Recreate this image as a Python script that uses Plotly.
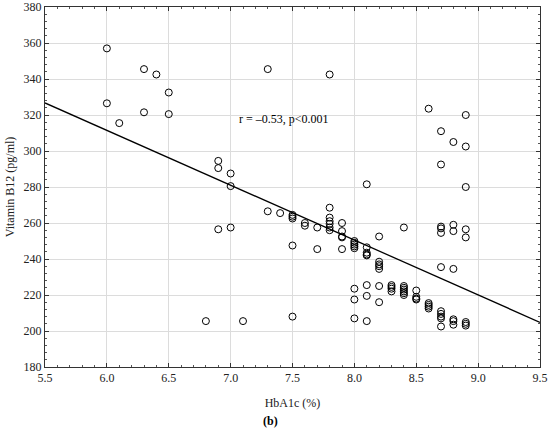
import plotly.graph_objects as go

# HbA1c (%) and vitamin B12 (pg/ml), column by column
hba1c = [
    6.0, 6.0,
    6.1,
    6.3, 6.3,
    6.4,
    6.5, 6.5,
    6.8,
    6.9, 6.9, 6.9,
    7.0, 7.0, 7.0,
    7.1,
    7.3, 7.3,
    7.4,
    7.5, 7.5, 7.5, 7.5, 7.5,
    7.6, 7.6,
    7.7, 7.7,
    7.8, 7.8, 7.8, 7.8, 7.8, 7.8, 7.8,
    7.9, 7.9, 7.9, 7.9, 7.9,
    8.0, 8.0, 8.0, 8.0, 8.0, 8.0, 8.0, 8.0,
    8.1, 8.1, 8.1, 8.1, 8.1, 8.1, 8.1, 8.1,
    8.2, 8.2, 8.2, 8.2, 8.2, 8.2, 8.2,
    8.3, 8.3, 8.3, 8.3,
    8.4, 8.4, 8.4, 8.4, 8.4, 8.4, 8.4,
    8.5, 8.5, 8.5, 8.5,
    8.6, 8.6, 8.6, 8.6, 8.6,
    8.7, 8.7, 8.7, 8.7, 8.7, 8.7, 8.7, 8.7, 8.7, 8.7, 8.7,
    8.8, 8.8, 8.8, 8.8, 8.8, 8.8, 8.8,
    8.9, 8.9, 8.9, 8.9, 8.9, 8.9, 8.9, 8.9,
]
b12 = [
    357, 326.5,
    315.5,
    345.5, 321.5,
    342.5,
    332.5, 320.5,
    205.5,
    294.5, 290.5, 256.5,
    287.5, 280.5, 257.5,
    205.5,
    345.5, 266.5,
    265.5,
    264.5, 263.5, 262.5, 247.5, 208,
    260, 258.5,
    257.5, 245.5,
    342.5, 268.5, 263, 261, 259.5, 257.5, 256,
    260, 255.5, 252.5, 252, 245.5,
    250, 249, 248, 247, 246, 223.5, 217.5, 207,
    281.5, 246.5, 243.5, 242.5, 242, 225.5, 219.5, 205.5,
    252.5, 238.5, 237, 236, 234.5, 225, 216,
    225.5, 224.5, 223.5, 222,
    257.5, 225, 224, 223, 222, 221, 220,
    222.5, 219, 218, 217.5,
    323.5, 215.5, 214.5, 213.5, 212.5,
    311, 292.5, 258, 257, 254.5, 235.5, 211, 209.5, 208, 207, 202.5,
    305, 259, 255.5, 234.5, 206.5, 205.5, 203.5,
    320, 302.5, 280, 256.5, 252, 205, 204, 203,
]

# regression line as drawn in the figure (value at the ends of the x range)
fit_x = [5.5, 9.5]
fit_y = [326.7, 204.8]

stat_text = "r = \u20130.53, p<0.001"
x_title = "HbA1c (%)"
y_title = "Vitamin B12 (pg/ml)"
panel_label = "(b)"

serif = "Liberation Serif, Times New Roman, serif"

fig = go.Figure()
fig.add_trace(go.Scatter(
    x=fit_x, y=fit_y, mode="lines",
    line=dict(color="black", width=1.3),
    hoverinfo="skip", showlegend=False,
))
fig.add_trace(go.Scatter(
    x=hba1c, y=b12, mode="markers",
    marker=dict(symbol="circle-open", size=7, color="black", line=dict(width=1)),
    showlegend=False,
))

fig.add_annotation(x=7.05, y=318, text=stat_text, showarrow=False,
                   xanchor="left", font=dict(family=serif, size=12, color="black"))
fig.add_annotation(x=0.455, y=-0.149, xref="paper", yref="paper",
                   xanchor="center", yanchor="middle", text="<b>" + panel_label + "</b>",
                   showarrow=False, font=dict(family=serif, size=12, color="black"))

axis_common = dict(
    showline=True, linecolor="#333", linewidth=1, mirror="ticks",
    ticks="inside", ticklen=4, tickcolor="#333",
    showgrid=True, gridcolor="#dcdcdc", gridwidth=1, zeroline=False,
    tickfont=dict(family=serif, size=12, color="#222"),
    automargin=False,
)
fig.update_xaxes(
    range=[5.5, 9.5], dtick=0.5, tickformat=".1f",
    minor=dict(ticks="inside", ticklen=2, dtick=0.1, tickcolor="#555", showgrid=False),
    title=dict(text=x_title, font=dict(family=serif, size=12, color="#222"), standoff=14),
    **axis_common,
)
fig.update_yaxes(
    range=[180, 380], dtick=20,
    minor=dict(ticks="inside", ticklen=2, dtick=4, tickcolor="#555", showgrid=False),
    title=dict(text=y_title, font=dict(family=serif, size=12, color="#222"), standoff=6),
    **axis_common,
)
fig.update_layout(
    width=550, height=428,
    margin=dict(l=45, r=10, t=7, b=61),
    paper_bgcolor="white", plot_bgcolor="white",
    font=dict(family=serif, color="black"),
)

# drop the page's default body margin so the 550x428 figure fills the window
fig.write_html("out.html", config={"displayModeBar": False},
               post_script="document.body.style.margin = '0';")
